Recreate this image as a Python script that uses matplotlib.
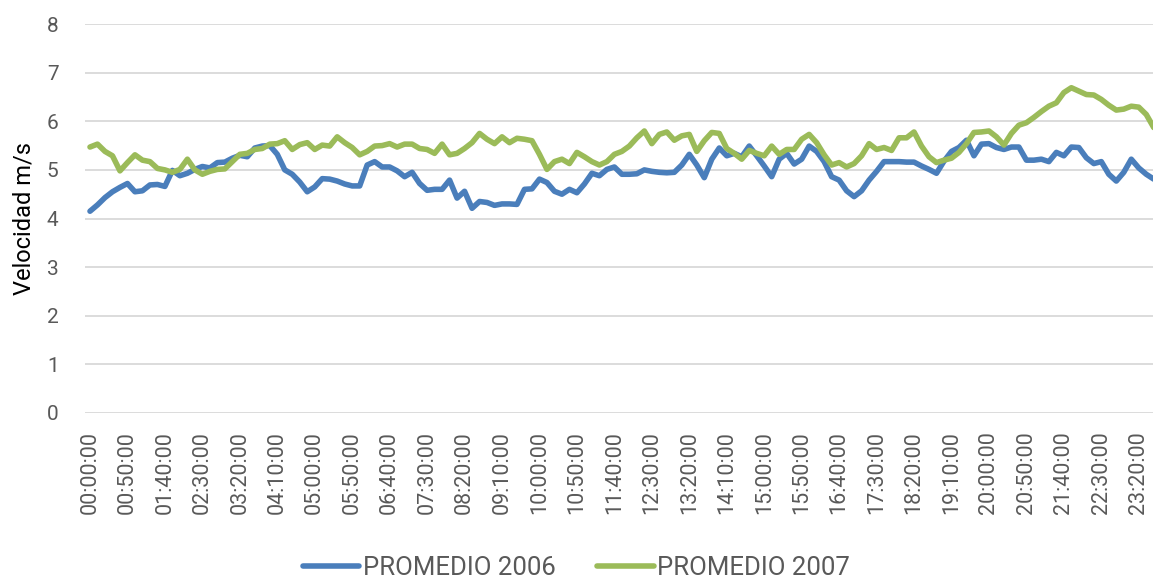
import matplotlib
matplotlib.use("Agg")
import matplotlib.pyplot as plt

# promedios de velocidad del viento cada 10 minutos (00:00 -> 23:40)
prom_2006 = [
    4.15, 4.28, 4.43, 4.55, 4.64, 4.72, 4.55, 4.57, 4.69, 4.70,
    4.66, 4.99, 4.88, 4.93, 5.01, 5.07, 5.04, 5.15, 5.16, 5.24,
    5.30, 5.27, 5.45, 5.49, 5.50, 5.32, 5.00, 4.91, 4.75, 4.55,
    4.65, 4.82, 4.81, 4.77, 4.71, 4.67, 4.67, 5.10, 5.17, 5.06,
    5.06, 4.98, 4.86, 4.95, 4.72, 4.58, 4.60, 4.60, 4.79, 4.42,
    4.56, 4.21, 4.35, 4.33, 4.27, 4.30, 4.30, 4.29, 4.60, 4.61,
    4.81, 4.74, 4.56, 4.50, 4.60, 4.53, 4.71, 4.93, 4.88, 5.01,
    5.06, 4.91, 4.91, 4.92, 5.00, 4.97, 4.95, 4.94, 4.95, 5.10,
    5.32, 5.10, 4.84, 5.22, 5.45, 5.29, 5.34, 5.27, 5.49, 5.29,
    5.08, 4.86, 5.22, 5.34, 5.12, 5.22, 5.49, 5.38, 5.17, 4.86,
    4.79, 4.57, 4.45, 4.57, 4.79, 4.97, 5.17, 5.17, 5.17, 5.16,
    5.16, 5.08, 5.01, 4.93, 5.18, 5.38, 5.46, 5.61, 5.29, 5.53,
    5.54, 5.46, 5.42, 5.47, 5.47, 5.20, 5.20, 5.22, 5.17, 5.36,
    5.29, 5.47, 5.46, 5.25, 5.13, 5.17, 4.91, 4.77, 4.95, 5.22,
    5.04, 4.91, 4.81,
]
prom_2007 = [
    5.47, 5.53, 5.38, 5.29, 4.98, 5.15, 5.31, 5.20, 5.17, 5.03,
    5.00, 4.95, 5.01, 5.22, 5.00, 4.91, 4.97, 5.01, 5.02, 5.17,
    5.32, 5.34, 5.42, 5.44, 5.53, 5.54, 5.60, 5.42, 5.52, 5.56,
    5.42, 5.51, 5.49, 5.68, 5.56, 5.46, 5.31, 5.38, 5.49, 5.50,
    5.54, 5.47, 5.53, 5.53, 5.44, 5.42, 5.34, 5.53, 5.31, 5.34,
    5.44, 5.56, 5.75, 5.63, 5.54, 5.68, 5.56, 5.65, 5.63, 5.60,
    5.32, 5.01, 5.17, 5.22, 5.13, 5.36, 5.27, 5.17, 5.10, 5.17,
    5.32, 5.38, 5.49, 5.66, 5.80, 5.54, 5.73, 5.78, 5.61, 5.70,
    5.73, 5.38, 5.60, 5.77, 5.75, 5.44, 5.34, 5.22, 5.40, 5.34,
    5.29, 5.49, 5.32, 5.42, 5.42, 5.63, 5.73, 5.56, 5.31, 5.10,
    5.15, 5.06, 5.13, 5.29, 5.54, 5.42, 5.46, 5.40, 5.66, 5.66,
    5.78, 5.49, 5.27, 5.15, 5.20, 5.24, 5.36, 5.54, 5.77, 5.78,
    5.80, 5.68, 5.51, 5.75, 5.92, 5.97, 6.08, 6.20, 6.31, 6.38,
    6.59, 6.69, 6.62, 6.55, 6.54, 6.45, 6.33, 6.23, 6.25, 6.31,
    6.29, 6.14, 5.87,
]

horas = [f"{m // 60:02d}:{m % 60:02d}:00" for m in range(0, 10 * len(prom_2006), 10)]
ticks = list(range(0, len(horas), 5))

azul = "#4A7EBB"
verde = "#9BBB59"
gris = "#595959"

plt.rcParams["font.family"] = ["Roboto", "DejaVu Sans"]

fig = plt.figure(figsize=(11.53, 5.83), dpi=100)
ax = fig.add_axes([0.0737, 0.2916, 0.9263, 0.6672])

x = list(range(len(horas)))
ax.plot(x, prom_2006, color=azul, lw=4.0, solid_capstyle="round",
        solid_joinstyle="round", label="PROMEDIO 2006", zorder=3)
ax.plot(x, prom_2007, color=verde, lw=4.0, solid_capstyle="round",
        solid_joinstyle="round", label="PROMEDIO 2007", zorder=3)

ax.set_ylim(0, 8)
ax.set_xlim(-0.67, 141.9)
ax.set_yticks(range(0, 9))
ax.set_xticks(ticks)
ax.set_xticklabels([horas[i] for i in ticks], rotation=90, va="top")
ax.tick_params(axis="y", length=0, labelsize=15, colors=gris, pad=19)
ax.tick_params(axis="x", length=0, labelsize=15.5, colors=gris, pad=13)

ax.grid(axis="y", color="#D9D9D9", lw=1.3)
ax.set_axisbelow(True)
for s in ax.spines.values():
    s.set_visible(False)

ax.set_ylabel("Velocidad m/s", fontsize=17, color="black", labelpad=8)

fig.legend(loc="lower center", bbox_to_anchor=(0.5, -0.035), ncol=2,
           frameon=False, fontsize=18.5, handlelength=2.2,
           handletextpad=0.15, columnspacing=1.6, labelcolor=gris)

fig.savefig("out.png", dpi=100)
